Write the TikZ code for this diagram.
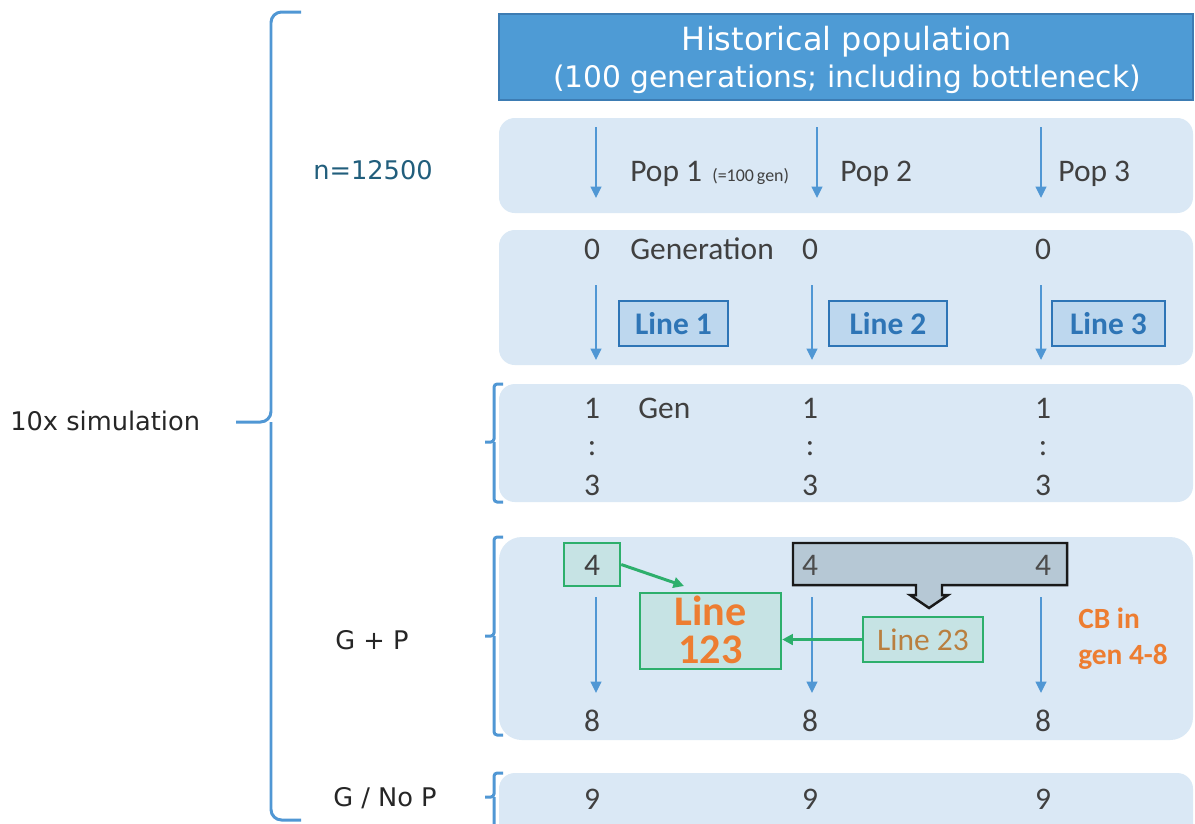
\documentclass[tikz,border=0pt]{standalone}
\usepackage{fontspec}
\setmainfont{Carlito}
\newfontfamily\vfont{DejaVu Sans}
\usetikzlibrary{arrows.meta}

\definecolor{hdrfill}{HTML}{4E9BD5}
\definecolor{hdrdraw}{HTML}{3D7CB3}
\definecolor{panelfill}{HTML}{DAE8F5}
\definecolor{flowblue}{HTML}{5097D4}
\definecolor{linefill}{HTML}{BDD7EE}
\definecolor{lineblue}{HTML}{2E75B6}
\definecolor{cbgreen}{HTML}{2DAF6C}
\definecolor{cbfill}{HTML}{C6E3E4}
\definecolor{greyfill}{HTML}{B6C8D5}
\definecolor{txtgray}{HTML}{404040}
\definecolor{tealtxt}{HTML}{215E7C}
\definecolor{orangetxt}{HTML}{ED7D31}
\definecolor{tantxt}{HTML}{B97F3F}

\newcommand\sidebrace[3]{% top, bottom, middle
  \draw[brk] (503,#1) -- (494,#1) -- (494,#3) -- (485,#3);
  \draw[brk] (494,#3) -- (494,#2) -- (503,#2);
}

\begin{document}
\begin{tikzpicture}[x=0.02cm,y=-0.02cm,
  panel/.style={fill=panelfill, rounded corners=9pt},
  flow/.style={draw=flowblue, line width=1.5pt, -{Triangle[length=6.5pt,width=6pt]}},
  gflow/.style={draw=cbgreen, line width=1.7pt, -{Triangle[length=6pt,width=6pt]}},
  brk/.style={draw=flowblue, line width=1.7pt, rounded corners=1.8pt},
  body/.style={font=\fontsize{17.9}{20}\selectfont, text=txtgray, inner sep=0pt},
  side/.style={font=\vfont\fontsize{14.6}{17}\selectfont, text=black!85, inner sep=0pt, anchor=west},
  linebox/.style={draw=lineblue, line width=1.3pt, fill=linefill, text=lineblue,
    font=\bfseries\fontsize{17.9}{20}\selectfont, inner sep=0pt, minimum height=0.9cm},
  cbbox/.style={draw=cbgreen, line width=1.4pt, fill=cbfill, inner sep=0pt}
]
\clip (0,0) rectangle (1195,823);
\fill[white] (0,0) rectangle (1195,823);

% header
\node[fill=hdrfill, draw=hdrdraw, line width=1pt, minimum width=13.88cm, minimum height=1.72cm,
  inner sep=0pt] (hdr) at (846,57) {};
\node[text=white, font=\vfont\fontsize{18.2}{20}\selectfont, anchor=base] (hdr1) at (847,50) {Historical population};
\node[text=white, font=\vfont\fontsize{16.9}{20}\selectfont, anchor=base] (hdr2) at (847,87) {(100 generations; including bottleneck)};

% panels
\path[panel] (499,118) rectangle (1193,213);
\path[panel] (499,230) rectangle (1193,365);
\path[panel] (499,384) rectangle (1193,502);
\path[panel, rounded corners=13pt] (499,537) rectangle (1193,740);
\path[panel] (499,773) rectangle (1193,860);

% row 1: populations
\foreach \i/\xx in {1/596,2/817,3/1041}{
  \coordinate (pa\i) at (\xx,127);
  \coordinate (pb\i) at (\xx,198);
  \draw[flow] (pa\i) -- (pb\i);
}
\node[body, anchor=base west] (pop1) at (630,181) {Pop 1};
\node[body, anchor=base west, font=\fontsize{10.2}{12}\selectfont] (pop1g) at (712,181) {(=100\,gen)};
\node[body, anchor=base west] (pop2) at (840,181) {Pop 2};
\node[body, anchor=base west] (pop3) at (1058,181) {Pop 3};

% row 2: generation 0 and founding lines
\node[body, anchor=base] (g0a) at (592,259) {0};
\node[body, anchor=base west] (gen0) at (630,259) {Generation};
\node[body, anchor=base] (g0b) at (810,259) {0};
\node[body, anchor=base] (g0c) at (1043,259) {0};
\foreach \i/\xx in {1/596,2/812,3/1041}{
  \coordinate (qa\i) at (\xx,285);
  \coordinate (qb\i) at (\xx,360);
  \draw[flow] (qa\i) -- (qb\i);
}
\node[linebox, minimum width=2.18cm] (ln1) at (673.5,323.5) {Line 1};
\node[linebox, minimum width=2.36cm] (ln2) at (888,323.5) {Line 2};
\node[linebox, minimum width=2.26cm] (ln3) at (1108.5,323.5) {Line 3};

% row 3: generations 1-3
\sidebrace{384}{502}{442}
\node[body, anchor=base] (g1a) at (592,418) {1};
\node[body, anchor=base west] (gen1) at (638,418) {Gen};
\node[body, anchor=base] (g1b) at (810,418) {1};
\node[body, anchor=base] (g1c) at (1043,418) {1};
\foreach \i/\xx in {a/592,b/810,c/1043}{
  \node[body, anchor=base] (gd\i) at (\xx,455) {:};
  \node[body, anchor=base] (g3\i) at (\xx,495) {3};
}

% row 4: generations 4-8 with crossbreeding
\sidebrace{537}{735}{636}
\foreach \i/\xx in {1/596,2/812,3/1041}{
  \coordinate (ra\i) at (\xx,597);
  \coordinate (rb\i) at (\xx,693);
  \draw[flow] (ra\i) -- (rb\i);
}
\draw[draw=black!90, line width=1.4pt, fill=greyfill]
  (793,543) -- (1067,543) -- (1067,585) -- (942,585) -- (942,595) -- (948,595)
  -- (929,608) -- (910,595) -- (916,595) -- (916,585) -- (793,585) -- cycle;
\node[body, anchor=base, text=black!70] (g4b) at (810,575) {4};
\node[body, anchor=base, text=black!70] (g4c) at (1043,575) {4};
\node[cbbox, minimum width=1.12cm, minimum height=0.86cm] (b4) at (592,564.5) {};
\node[body, anchor=base] (g4a) at (592,575) {4};
\node[cbbox, minimum width=2.82cm, minimum height=1.52cm] (l123) at (710.5,631) {};
\node[text=orangetxt, inner sep=0pt, anchor=base, font=\bfseries\fontsize{24}{24}\selectfont] (l123a) at (710.5,625) {Line};
\node[text=orangetxt, inner sep=0pt, anchor=base, font=\bfseries\fontsize{24}{24}\selectfont] (l123b) at (710.5,663) {123};
\node[cbbox, minimum width=2.4cm, minimum height=0.9cm, text=tantxt,
  font=\fontsize{17.9}{20}\selectfont] (l23) at (923,639.5) {Line 23};
\coordinate (g1tip) at (684,586);
\draw[gflow] (b4.east) -- (g1tip);
\draw[gflow] (l23.west) -- (l123.east |- l23.west);
\node[anchor=base west, text=orangetxt, inner sep=0pt,
  font=\bfseries\fontsize{16.7}{21}\selectfont] (cb1) at (1078,628) {CB in};
\node[anchor=base west, text=orangetxt, inner sep=0pt,
  font=\bfseries\fontsize{16.7}{21}\selectfont] (cb2) at (1078,664) {gen 4-8};
\node[body, anchor=base] (g8a) at (592,731) {8};
\node[body, anchor=base] (g8b) at (810,731) {8};
\node[body, anchor=base] (g8c) at (1043,731) {8};

% row 5: generation 9
\sidebrace{773}{840}{797}
\node[body, anchor=base] (g9a) at (592,809) {9};
\node[body, anchor=base] (g9b) at (810,809) {9};
\node[body, anchor=base] (g9c) at (1043,809) {9};

% left-hand labels
\node[side, text=tealtxt] (nlab) at (313,170) {n=12500};
\node[side] (simlab) at (10,421) {10x simulation};
\node[side] (gplab) at (335,640) {G + P};
\node[side] (gnplab) at (333,798) {G / No P};

% outer brace
\draw[brk, rounded corners=6pt] (301,12) -- (271,12) -- (271,422) -- (236,422);
\draw[brk, rounded corners=6pt] (271,422) -- (271,820) -- (301,820);
\end{tikzpicture}
\end{document}
